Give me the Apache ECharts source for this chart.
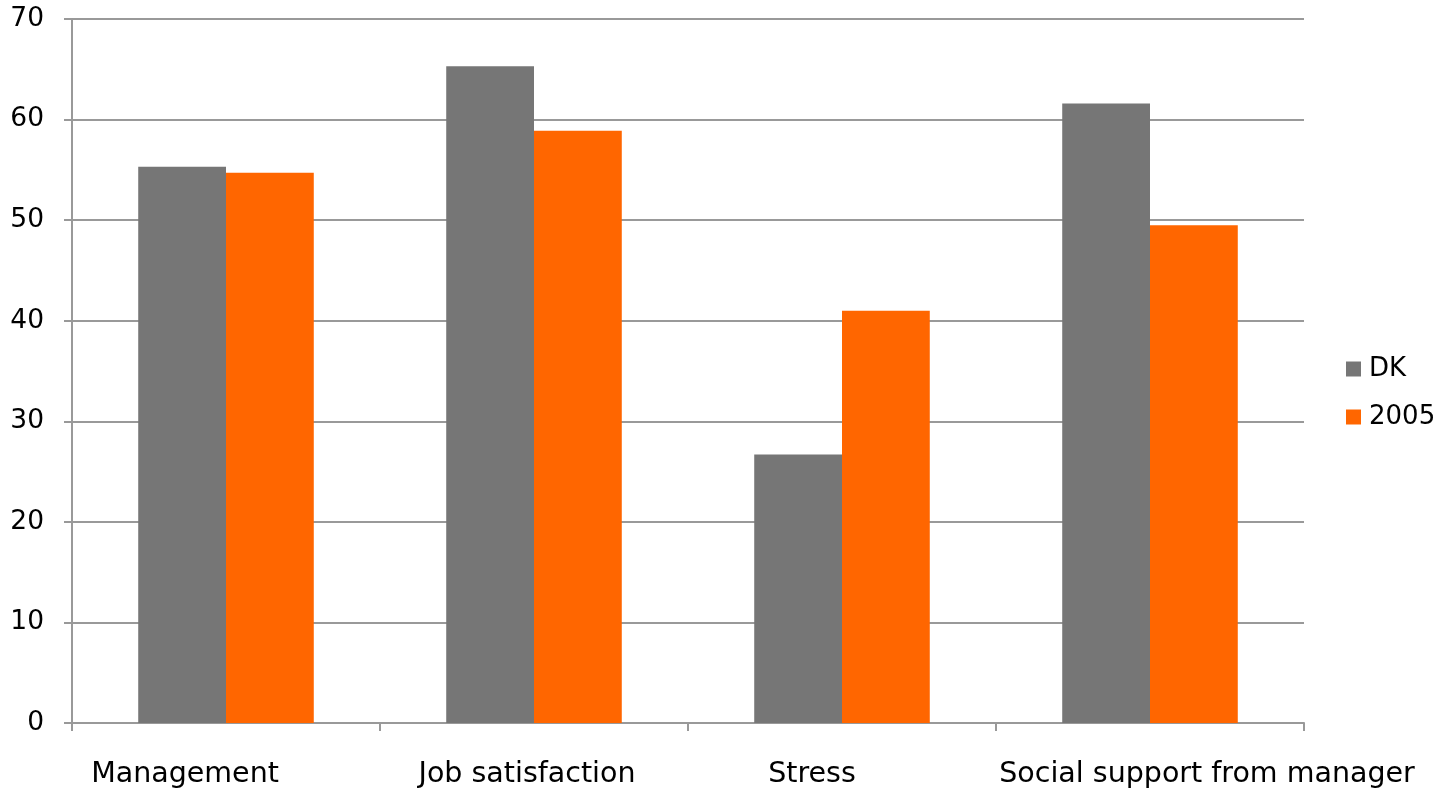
<!DOCTYPE html>
<html>
<head>
<meta charset="utf-8">
<script src="https://cdn.jsdelivr.net/npm/echarts@6.0.0/dist/echarts.min.js"></script>
<style>
  html, body { margin: 0; padding: 0; background: #fff; }
  #chart { width: 1441px; height: 793px; }
</style>
</head>
<body>
<div id="chart"></div>
<script>
  // data
  const categories = ["Management", "Job satisfaction", "Stress", "Social support from manager"];
  const dkValues = [55.3, 65.3, 26.7, 61.6];
  const y2005Values = [54.7, 58.9, 41.0, 49.5];
  const yTicks = [0, 10, 20, 30, 40, 50, 60, 70];

  // the source places its category labels slightly off-centre
  const labelPad = [[0, 82, 0, 0], [0, 14, 0, 0], [0, 60, 0, 0], [0, 0, 0, 114]];

  const FS = 28.5;
  const rich = {};
  labelPad.forEach(function (p, i) {
    rich["c" + i] = { padding: p, fontSize: FS, color: "#000", fontFamily: "DejaVu Sans" };
  });

  const chart = echarts.init(document.getElementById("chart"), null, { renderer: "canvas" });

  chart.setOption({
    animation: false,
    textStyle: { fontFamily: "DejaVu Sans" },
    grid: { left: 72, right: 137, top: 19, bottom: 70, containLabel: false },
    legend: {
      orient: "vertical",
      left: 1341,
      top: 351,
      itemWidth: 15,
      itemHeight: 15,
      itemGap: 22,
      icon: "rect",
      textStyle: { fontSize: 26, color: "#000", fontFamily: "DejaVu Sans", padding: [0, 0, 0, 3] },
      data: ["DK", "2005"]
    },
    xAxis: {
      type: "category",
      data: categories,
      axisLine: { lineStyle: { color: "#999", width: 2 } },
      axisTick: { show: true, length: 8, lineStyle: { color: "#999", width: 2 } },
      axisLabel: {
        margin: 37,
        interval: 0,
        formatter: function (v, i) { return "{c" + i + "|" + v + "}"; },
        rich: rich
      }
    },
    yAxis: {
      type: "value",
      min: yTicks[0],
      max: yTicks[yTicks.length - 1],
      interval: 10,
      axisLine: { show: true, lineStyle: { color: "#999", width: 2 } },
      axisTick: { show: true, length: 8, lineStyle: { color: "#999", width: 2 } },
      splitLine: { lineStyle: { color: "#999", width: 2 } },
      axisLabel: { margin: 28, fontSize: 26.5, color: "#000", fontFamily: "DejaVu Sans" }
    },
    series: [
      {
        name: "DK",
        type: "bar",
        data: dkValues,
        itemStyle: { color: "#767676" },
        barGap: "0%",
        barCategoryGap: "43%"
      },
      {
        name: "2005",
        type: "bar",
        data: y2005Values,
        itemStyle: { color: "#FF6600" },
        barGap: "0%",
        barCategoryGap: "43%"
      }
    ]
  });
</script>
</body>
</html>
